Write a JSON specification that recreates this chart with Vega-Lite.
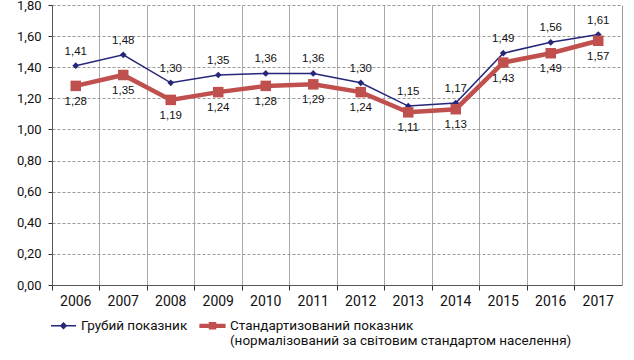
{
  "$schema": "https://vega.github.io/schema/vega-lite/v6.json",
  "width": 570,
  "height": 280,
  "autosize": {"type": "none"},
  "padding": {"left": 52, "top": 5, "right": 12, "bottom": 75},
  "background": "white",
  "config": {
    "view": {"stroke": null},
    "locale": {"number": {"decimal": ",", "thousands": " ", "grouping": [3], "currency": ["", ""]}},
    "font": "Roboto, sans-serif"
  },
  "data": {
    "values": [
      {"year": "2006", "series": "Грубий показник", "value": 1.41},
      {"year": "2007", "series": "Грубий показник", "value": 1.48},
      {"year": "2008", "series": "Грубий показник", "value": 1.30},
      {"year": "2009", "series": "Грубий показник", "value": 1.35},
      {"year": "2010", "series": "Грубий показник", "value": 1.36},
      {"year": "2011", "series": "Грубий показник", "value": 1.36},
      {"year": "2012", "series": "Грубий показник", "value": 1.30},
      {"year": "2013", "series": "Грубий показник", "value": 1.15},
      {"year": "2014", "series": "Грубий показник", "value": 1.17},
      {"year": "2015", "series": "Грубий показник", "value": 1.49},
      {"year": "2016", "series": "Грубий показник", "value": 1.56},
      {"year": "2017", "series": "Грубий показник", "value": 1.61},
      {"year": "2006", "series": "Стандартизований показник\n(нормалізований за світовим стандартом населення)", "value": 1.28},
      {"year": "2007", "series": "Стандартизований показник\n(нормалізований за світовим стандартом населення)", "value": 1.35},
      {"year": "2008", "series": "Стандартизований показник\n(нормалізований за світовим стандартом населення)", "value": 1.19},
      {"year": "2009", "series": "Стандартизований показник\n(нормалізований за світовим стандартом населення)", "value": 1.24},
      {"year": "2010", "series": "Стандартизований показник\n(нормалізований за світовим стандартом населення)", "value": 1.28},
      {"year": "2011", "series": "Стандартизований показник\n(нормалізований за світовим стандартом населення)", "value": 1.29},
      {"year": "2012", "series": "Стандартизований показник\n(нормалізований за світовим стандартом населення)", "value": 1.24},
      {"year": "2013", "series": "Стандартизований показник\n(нормалізований за світовим стандартом населення)", "value": 1.11},
      {"year": "2014", "series": "Стандартизований показник\n(нормалізований за світовим стандартом населення)", "value": 1.13},
      {"year": "2015", "series": "Стандартизований показник\n(нормалізований за світовим стандартом населення)", "value": 1.43},
      {"year": "2016", "series": "Стандартизований показник\n(нормалізований за світовим стандартом населення)", "value": 1.49},
      {"year": "2017", "series": "Стандартизований показник\n(нормалізований за світовим стандартом населення)", "value": 1.57}
    ]
  },
  "encoding": {
    "x": {
      "field": "year", "type": "ordinal", "title": null,
      "scale": {"type": "band", "paddingInner": 0, "paddingOuter": 0},
      "axis": {
        "bandPosition": 0, "labelAngle": 0,
        "grid": true, "gridColor": "#aaaaaa", "gridWidth": 1,
        "domainColor": "#555555", "tickColor": "#333333", "tickSize": 5,
        "labelFontSize": 14, "labelColor": "#111111", "labelPadding": 4,
        "labelFont": "Roboto, sans-serif"
      }
    },
    "y": {
      "field": "value", "type": "quantitative", "title": null,
      "scale": {"domain": [0, 1.8], "nice": false, "zero": true},
      "axis": {
        "values": [0, 0.2, 0.4, 0.6, 0.8, 1.0, 1.2, 1.4, 1.6, 1.8],
        "format": ".2f",
        "grid": true, "gridColor": "#999999", "gridDash": [3, 2], "gridWidth": 1,
        "domainColor": "#555555", "tickColor": "#333333", "tickSize": 4,
        "labelFontSize": 13, "labelColor": "#111111", "labelPadding": 7,
        "labelFont": "Roboto, sans-serif"
      }
    }
  },
  "layer": [
    {
      "layer": [
        {
          "transform": [{"filter": "datum.series == 'Грубий показник'"}],
          "mark": {"type": "line", "color": "#26267a", "strokeWidth": 1.5}
        },
        {
          "transform": [{"filter": "datum.series != 'Грубий показник'"}],
          "mark": {"type": "line", "color": "#c0504d", "strokeWidth": 4.5}
        },
        {
          "transform": [{"filter": "datum.series == 'Грубий показник'"}],
          "mark": {"type": "point", "shape": "diamond", "filled": true, "color": "#26267a", "size": 45, "opacity": 1}
        },
        {
          "transform": [{"filter": "datum.series != 'Грубий показник'"}],
          "mark": {"type": "point", "shape": "square", "filled": true, "color": "#c0504d", "size": 110, "opacity": 1}
        },
        {
          "transform": [{"filter": "datum.series == 'Грубий показник'"}],
          "mark": {"type": "text", "dy": -14, "fontSize": 11.5, "font": "Liberation Sans, Arial, sans-serif", "color": "#111111"},
          "encoding": {"text": {"field": "value", "type": "quantitative", "format": ".2f"}}
        },
        {
          "transform": [{"filter": "datum.series != 'Грубий показник'"}],
          "mark": {"type": "text", "dy": 16, "fontSize": 11.5, "font": "Liberation Sans, Arial, sans-serif", "color": "#111111"},
          "encoding": {"text": {"field": "value", "type": "quantitative", "format": ".2f"}}
        }
      ]
    },
    {
      "transform": [{"filter": "datum.value < 0"}],
      "mark": {"type": "point", "filled": true, "size": 625, "opacity": 1},
      "encoding": {
        "y": {
          "field": "value", "type": "quantitative", "title": null,
          "scale": {"domain": [0, 1.8], "nice": false, "zero": true},
          "axis": {"orient": "right", "labels": false, "ticks": false, "grid": false, "domainColor": "#999999", "title": null}
        },
        "color": {
          "field": "series", "type": "nominal",
          "scale": {"domain": ["Грубий показник", "Стандартизований показник\n(нормалізований за світовим стандартом населення)"], "range": ["#26267a", "#c0504d"]},
          "legend": {
            "title": null, "orient": "none", "legendX": -1, "legendY": 308, "direction": "horizontal",
            "labelExpr": "split(indexof(datum.label, '\\n') < 0 ? datum.label + '\\n ' : datum.label, '\\n')",
            "labelFontSize": 13.5, "labelColor": "#111111", "labelLimit": 600,
            "labelFont": "Roboto, sans-serif",
            "symbolSize": 625, "symbolStrokeWidth": 0, "columnPadding": 11, "labelOffset": 5,
            "labelBaseline": "middle",
            "encode": {"labels": {"update": {"dy": {"value": 8.5}, "lineHeight": {"value": 17}}}}
          }
        },
        "shape": {
          "field": "series", "type": "nominal",
          "scale": {"domain": ["Грубий показник", "Стандартизований показник\n(нормалізований за світовим стандартом населення)"], "range": ["M-1,-0.06H1V0.06H-1Z M0,-0.3L0.3,0L0,0.3L-0.3,0Z", "M-1.05,-0.17H1.05V0.17H-1.05Z M-0.3,-0.3H0.3V0.3H-0.3Z"]},
          "legend": {
            "title": null, "orient": "none", "legendX": -1, "legendY": 308, "direction": "horizontal",
            "labelExpr": "split(indexof(datum.label, '\\n') < 0 ? datum.label + '\\n ' : datum.label, '\\n')",
            "labelFontSize": 13.5, "labelColor": "#111111", "labelLimit": 600,
            "labelFont": "Roboto, sans-serif",
            "symbolSize": 625, "symbolStrokeWidth": 0, "columnPadding": 11, "labelOffset": 5,
            "labelBaseline": "middle",
            "encode": {"labels": {"update": {"dy": {"value": 8.5}, "lineHeight": {"value": 17}}}}
          }
        }
      }
    }
  ],
  "resolve": {"axis": {"y": "independent"}}
}
